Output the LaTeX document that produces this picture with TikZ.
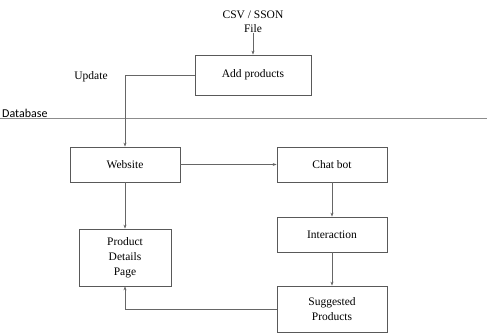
\documentclass[tikz,border=0pt]{standalone}
\usepackage{fontspec}
\setmainfont{Liberation Serif}
\newfontfamily\dbfont{Carlito}
\usetikzlibrary{arrows.meta}
\begin{document}
\begin{tikzpicture}[x=1pt,y=-1pt,
  box/.style={draw=black!65, line width=0.75pt, rectangle, inner sep=0pt, align=center, font=\fontsize{11.5}{15}\selectfont},
  conn/.style={draw=black!60, line width=0.75pt, -{Stealth[length=4pt,width=3pt]}},
  lbl/.style={font=\fontsize{11.5}{14}\selectfont, align=center, inner sep=0pt}]
\useasboundingbox (0,0) rectangle (487,336);
% process boxes
\node[box, minimum width=116pt, minimum height=40pt] (add) at (253,75) {Add products};
\node[box, minimum width=110pt, minimum height=35pt] (web) at (125,164.5) {Website};
\node[box, minimum width=110pt, minimum height=35pt] (chat) at (332,164.5) {Chat bot};
\node[box, minimum width=110pt, minimum height=35pt] (inter) at (332,234.5) {Interaction};
\node[box, minimum width=110pt, minimum height=46pt] (sugg) at (332,309) {Suggested\\Products};
\node[box, minimum width=92pt, minimum height=57pt] (pdp) at (125,257.5) {Product\\Details\\Page};
% labels
\node[lbl] (csv) at (253,21.5) {CSV / SSON\\File};
\node[lbl] (upd) at (91,77) {Update};
\node[font=\dbfont\fontsize{12}{14}\selectfont, anchor=west, inner sep=0pt] (db) at (2,113) {Database};
% database boundary line
\coordinate (dbl) at (0,118);
\coordinate (dbr) at (487,118);
\draw[draw=black!45, line width=0.75pt] (dbl) -- (dbr);
% connectors
\draw[conn] (csv.south) -- (add.north);
\draw[conn] (add.west) -| (web.north);
\draw[conn] (web.east) -- (chat.west);
\draw[conn] (chat.south) -- (inter.north);
\draw[conn] (inter.south) -- (sugg.north);
\draw[conn] (web.south) -- (pdp.north);
\draw[conn] (sugg.west) -| (pdp.south);
\end{tikzpicture}
\end{document}
